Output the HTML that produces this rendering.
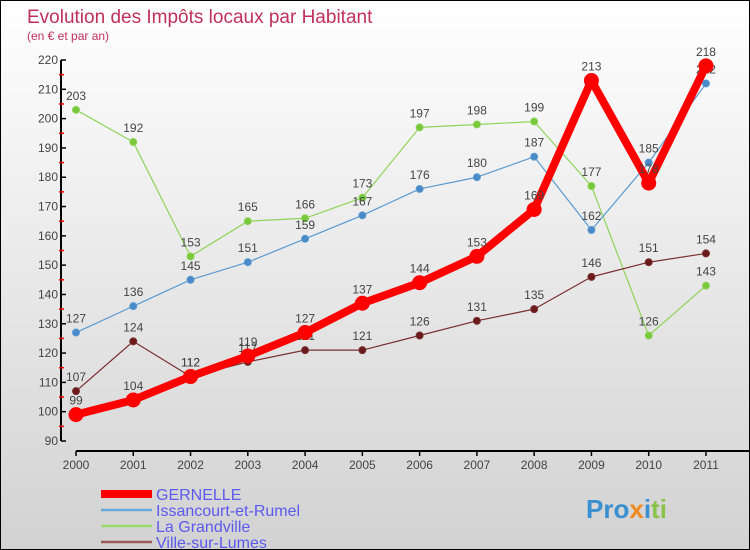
<!DOCTYPE html>
<html><head><meta charset="utf-8"><style>
body{margin:0}
#c{width:748px;height:548px;border:1px solid #000;background:linear-gradient(#fff,#d2d2d2);position:relative;font-family:"Liberation Sans",sans-serif;overflow:hidden}
</style></head><body>
<div id="c">
<svg id="s" width="748" height="548" style="position:absolute;left:0;top:0">
<text x="26" y="22" font-size="19" fill="#c0305a" font-family="Liberation Sans">Evolution des Impôts locaux par Habitant</text>
<text x="26" y="39" font-size="12" fill="#c0305a">(en € et par an)</text>
<text x="585" y="517" font-size="26" font-weight="bold" fill="#3a8fd0">Pro<tspan fill="#f08a20">x</tspan><tspan fill="#3a8fd0">i</tspan><tspan fill="#8bc34a">ti</tspan></text>
</svg>
</div>
<script>
const years=["2000","2001","2002","2003","2004","2005","2006","2007","2008","2009","2010","2011"];
const gernelle=[99,104,112,119,127,137,144,153,169,213,178,218];
const issancourt=[127,136,145,151,159,167,176,180,187,162,185,212];
const grandville=[203,192,153,165,166,173,197,198,199,177,126,143];
const villeLumes=[107,124,112,117,121,121,126,131,135,146,151,154];
const yTicks=[90,100,110,120,130,140,150,160,170,180,190,200,210,220];
const NS="http://www.w3.org/2000/svg";
const svg=document.getElementById('s');
const X=i=>75+i*57.27;
const Y=v=>440-(v-90)*(381/130);
function mk(t,a,p){const e=document.createElementNS(NS,t);for(const k in a)e.setAttribute(k,a[k]);(p||svg).appendChild(e);return e;}
let ya=mk('line',{x1:60,y1:59,x2:60,y2:440,stroke:'#000','stroke-width':2});


let xa=mk('line',{x1:75,y1:450,x2:748,y2:450,stroke:'#000','stroke-width':2});


yTicks.forEach((v,i)=>{
  mk('line',{x1:60,y1:Y(v),x2:65,y2:Y(v),stroke:'#000','stroke-width':1.5});
  if(i<yTicks.length-1)mk('line',{x1:58,y1:Y(v+5),x2:63,y2:Y(v+5),stroke:'#e00','stroke-width':1.5});
  const t=mk('text',{x:57,y:Y(v)+4,'text-anchor':'end','font-size':12,fill:'#444'});t.textContent=v;
  
  
});
years.forEach((y,i)=>{
  mk('line',{x1:X(i),y1:450,x2:X(i),y2:455,stroke:'#000','stroke-width':1.5});
  const t=mk('text',{x:X(i),y:468,'text-anchor':'middle','font-size':12,fill:'#444'});t.textContent=y;
  
  
});
function series(d,color,dot,w,r,name){
  const g=mk('g',{});
  
  
  mk('polyline',{points:d.map((v,i)=>X(i)+','+Y(v)).join(' '),fill:'none',stroke:color,'stroke-width':w,'stroke-linejoin':'round'},g);
  d.forEach((v,i)=>{
    const c=mk('circle',{cx:X(i),cy:Y(v),r:r,fill:dot,stroke:color,'stroke-width':1},g);
    
    
    const t=mk('text',{x:X(i),y:Y(v)-10,'text-anchor':'middle','font-size':12,fill:'#444'},g);t.textContent=v;
    
    
  });
}
series(grandville,'#8fd45a','#77c83a',1.2,3.5,'la-grandville-series');
series(issancourt,'#5a9ad0','#4a8ac8',1.2,3.5,'issancourt-series');
series(villeLumes,'#7a3030','#6a1a1a',1.2,3.5,'ville-sur-lumes-series');
series(gernelle,'#f00','#f00',8,7,'gernelle-series');
const leg=[['GERNELLE','#f00',8],['Issancourt-et-Rumel','#6aa8d8',2.5],['La Grandville','#9ad870',2.5],['Ville-sur-Lumes','#9a5a5a',2.5]];
leg.forEach((l,i)=>{
  const yy=493+i*16;
  const g=mk('g',{});
  
  
  mk('line',{x1:100,y1:yy,x2:151,y2:yy,stroke:l[1],'stroke-width':l[2]},g);
  const t=mk('text',{x:155,y:yy+6,'font-size':16,fill:'#5a5aee'},g);t.textContent=l[0];
});
</script>
</body></html>
